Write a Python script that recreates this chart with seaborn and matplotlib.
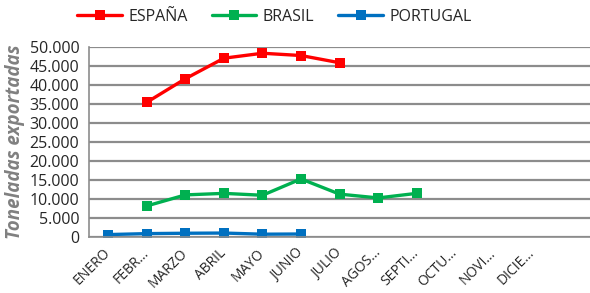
import pandas as pd
import seaborn as sns
import matplotlib.pyplot as plt
import matplotlib.transforms as mtransforms
from matplotlib.ticker import FuncFormatter, MultipleLocator

meses = ["ENERO", "FEBR...", "MARZO", "ABRIL", "MAYO", "JUNIO", "JULIO",
         "AGOS...", "SEPTI...", "OCTU...", "NOVI...", "DICIE..."]
espana = [None, 35500, 41700, 47100, 48400, 47800, 45900, None, None, None, None, None]
brasil = [None, 8200, 11100, 11500, 11000, 15300, 11300, 10300, 11500, None, None, None]
portugal = [650, 900, 1000, 1050, 750, 800, None, None, None, None, None, None]

series = {"ESPAÑA": espana, "BRASIL": brasil, "PORTUGAL": portugal}
colores = {"ESPAÑA": "#FF0000", "BRASIL": "#00B050", "PORTUGAL": "#0070C0"}

rows = []
for pais, vals in series.items():
    for i, v in enumerate(vals):
        if v is not None:
            rows.append({"mes": i, "toneladas": v, "pais": pais})
df = pd.DataFrame(rows)

sns.set_style("white")
plt.rcParams["font.family"] = ["Open Sans", "DejaVu Sans"]

fig = plt.figure(figsize=(5.9, 2.93), dpi=100)
ax = fig.add_axes([0.151, 0.191, 0.849, 0.648])

sns.lineplot(data=df, x="mes", y="toneladas", hue="pais", palette=colores,
             marker="s", markersize=7, markeredgewidth=0, linewidth=2.4,
             ax=ax)

ax.set_xlim(-0.5, 12.5)
ax.set_ylim(0, 50000)
ax.yaxis.set_major_locator(MultipleLocator(5000))
ax.yaxis.set_minor_locator(MultipleLocator(1000))
ax.yaxis.set_major_formatter(FuncFormatter(lambda v, p: f"{int(v):,}".replace(",", ".")))
ax.grid(axis="y", color="#8c8c8c", linewidth=1.6)
ax.set_axisbelow(True)

ax.set_xticks(range(len(meses)))
ax.set_xticklabels(meses, rotation=45, ha="right", va="center",
                   rotation_mode="anchor", fontsize=10)
offset = mtransforms.ScaledTranslation(6 / 100, 0, fig.dpi_scale_trans)
for lab in ax.get_xticklabels():
    lab.set_transform(lab.get_transform() + offset)
ax.set_xticks([i - 0.5 for i in range(14)], minor=True)
ax.tick_params(axis="x", which="major", length=0, pad=10)
ax.tick_params(axis="x", which="minor", length=5, color="#8c8c8c", width=1.2)
ax.tick_params(axis="y", which="major", length=5, color="#8c8c8c", width=1.2, labelsize=11.5, pad=2)
ax.tick_params(axis="y", which="minor", length=3, color="#8c8c8c", width=0.8)

for s in ["top", "right"]:
    ax.spines[s].set_visible(False)
for s in ["left", "bottom"]:
    ax.spines[s].set_color("#8c8c8c")
    ax.spines[s].set_linewidth(1.2)

ax.set_xlabel("")
ax.set_ylabel("Toneladas exportadas", fontsize=13.5, color="#808080",
              fontstyle="italic", fontweight="bold", labelpad=3)

handles, labels = ax.get_legend_handles_labels()
ax.legend(handles, labels, loc="center", bbox_to_anchor=(0.37, 1.16),
          ncol=3, frameon=False, fontsize=11.5, handlelength=2.8,
          columnspacing=1.5, handletextpad=0.4)

fig.savefig("out.png", dpi=100)
